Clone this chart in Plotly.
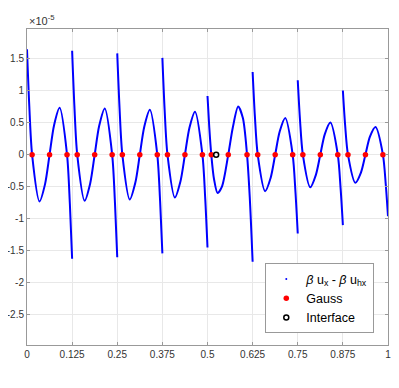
import plotly.graph_objects as go

# error beta*u_x - beta*u_hx (units of 1e-5), one block per element, None = break
x_err = [
    0.0, 0.00625, 0.0141, 0.0346, 0.05, 0.0625, 0.075, 0.0904, 0.1109, 0.11875, 0.125, None,
    0.125, 0.13125, 0.1391, 0.1596, 0.175, 0.1875, 0.2, 0.2154, 0.2359, 0.24375, 0.25, None,
    0.25, 0.25625, 0.2641, 0.2846, 0.3, 0.3125, 0.325, 0.3404, 0.3609, 0.36875, 0.375, None,
    0.375, 0.38125, 0.3891, 0.4096, 0.425, 0.4375, 0.45, 0.4654, 0.4859, 0.49375, 0.5, None,
    0.5, 0.505, 0.5105, 0.518, 0.528, 0.54, 0.5575, 0.57, 0.585, 0.598, 0.6095, 0.617, 0.625, None,
    0.625, 0.63125, 0.6391, 0.6596, 0.675, 0.6875, 0.7, 0.7154, 0.7359, 0.74375, 0.75, None,
    0.75, 0.75625, 0.7641, 0.7846, 0.8, 0.8125, 0.825, 0.8404, 0.8609, 0.86875, 0.875, None,
    0.875, 0.88125, 0.8891, 0.9096, 0.925, 0.9375, 0.95, 0.9654, 0.9859, 0.99375, 1.0,
]
y_err = [
    1.645, 0.77, 0, -0.73, -0.46, 0, 0.46, 0.73, 0, -0.77, -1.625, None,
    1.62, 0.76, 0, -0.72, -0.45, 0, 0.45, 0.72, 0, -0.76, -1.6, None,
    1.58, 0.74, 0, -0.70, -0.44, 0, 0.44, 0.70, 0, -0.73, -1.54, None,
    1.51, 0.70, 0, -0.67, -0.42, 0, 0.42, 0.67, 0, -0.69, -1.45, None,
    0.915, 0.42, 0, -0.38, -0.60, -0.50, 0, 0.42, 0.75, 0.57, 0, -0.66, -1.67, None,
    1.29, 0.60, 0, -0.57, -0.36, 0, 0.36, 0.57, 0, -0.59, -1.23, None,
    1.16, 0.54, 0, -0.51, -0.32, 0, 0.32, 0.50, 0, -0.53, -1.10, None,
    1.0, 0.46, 0, -0.44, -0.28, 0, 0.28, 0.43, 0, -0.46, -0.96,
]

# gauss points (error is zero there)
x_gauss = [0.0141, 0.0625, 0.1109, 0.1391, 0.1875, 0.2359, 0.2641, 0.3125, 0.3609,
           0.3891, 0.4375, 0.4859, 0.5105, 0.5575, 0.6095, 0.6391, 0.6875, 0.7359,
           0.7641, 0.8125, 0.8609, 0.8891, 0.9375, 0.9859]
y_gauss = [0] * len(x_gauss)

x_interface = [0.524]
y_interface = [0]

x_ticks = [0, 0.125, 0.25, 0.375, 0.5, 0.625, 0.75, 0.875, 1]
x_labels = ["0", "0.125", "0.25", "0.375", "0.5", "0.625", "0.75", "0.875", "1"]
y_ticks = [-2.5, -2, -1.5, -1, -0.5, 0, 0.5, 1, 1.5]
y_labels = ["-2.5", "-2", "-1.5", "-1", "-0.5", "0", "0.5", "1", "1.5"]

fig = go.Figure()
fig.add_trace(go.Scatter(x=x_err, y=y_err, mode="lines", showlegend=False,
                         line=dict(color="#0000ff", width=2, shape="spline", smoothing=0.8)))
# legend entry only (MATLAB shows a dot marker)
fig.add_trace(go.Scatter(x=[None], y=[None], mode="markers",
                         name="<i>β</i> u<sub>x</sub> - <i>β</i> u<sub>hx</sub>",
                         marker=dict(color="#0000ff", size=2)))
fig.add_trace(go.Scatter(x=x_gauss, y=y_gauss, mode="markers", name="Gauss",
                         marker=dict(color="#ff0000", size=5.5)))
fig.add_trace(go.Scatter(x=x_interface, y=y_interface, mode="markers", name="Interface",
                         marker=dict(color="rgba(0,0,0,0)", size=5, line=dict(color="black", width=1.5))))

axis_style = dict(showline=True, linecolor="#999999", linewidth=1, mirror="ticks",
                  ticks="inside", ticklen=3, tickcolor="#999999", automargin=False,
                  showgrid=True, gridcolor="#e8e8e8", gridwidth=1, zeroline=False,
                  tickfont=dict(family="Liberation Sans", size=10, color="#333333"))

fig.update_xaxes(range=[0, 1], tickvals=x_ticks, ticktext=x_labels, **axis_style)
fig.update_yaxes(range=[-2.97, 1.96], tickvals=y_ticks, ticktext=y_labels, **axis_style)

fig.add_annotation(text="×10<sup>-5</sup>", xref="paper", yref="paper", x=0, y=1,
                   xanchor="left", yanchor="bottom", showarrow=False, yshift=0,
                   font=dict(family="Liberation Sans", size=11, color="#333333"))

# page body adds 8px, so the figure is a bit smaller than the window
fig.update_layout(
    width=391, height=380,
    margin=dict(l=19, r=11, t=21, b=43, autoexpand=False),
    plot_bgcolor="white", paper_bgcolor="white",
    font=dict(family="Liberation Sans", size=12, color="black"),
    legend=dict(x=0.962, y=0.037, xanchor="right", yanchor="bottom",
                bgcolor="white", bordercolor="#999999", borderwidth=1,
                itemwidth=30, tracegroupgap=0,
                font=dict(family="Liberation Sans", size=12.5, color="black")),
)

fig.write_html("out.html")
